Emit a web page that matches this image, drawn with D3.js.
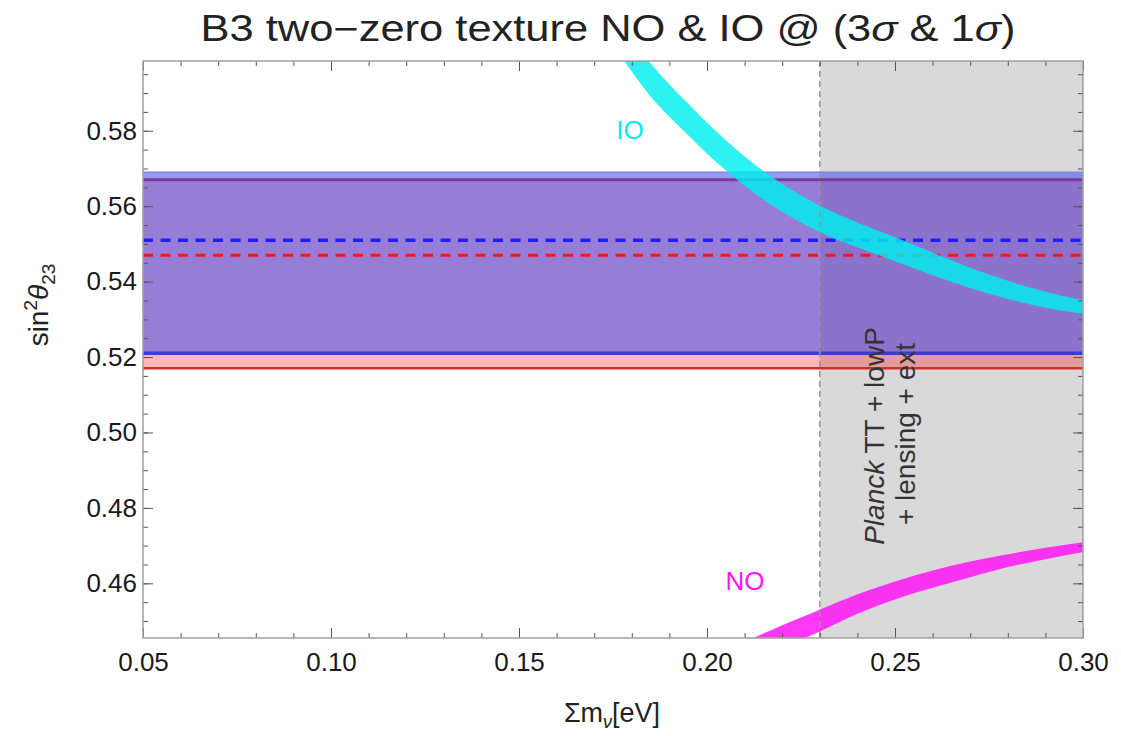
<!DOCTYPE html>
<html>
<head>
<meta charset="utf-8">
<script src="https://cdn.jsdelivr.net/npm/d3@7"></script>
<style>
  html, body { margin: 0; padding: 0; background: #fff; }
  svg { display: block; }
  text { font-family: "Liberation Sans", Arial, Helvetica, sans-serif; }
</style>
</head>
<body>
<svg id="chart" width="1121" height="736"></svg>
<script>
// Axis extents and ticks
const xDomain = [0.05, 0.30];
const yDomain = [0.4455, 0.5985];
const xMajorTicks = [0.05, 0.10, 0.15, 0.20, 0.25, 0.30];
const xMinorTicks = d3.range(0.05, 0.3001, 0.01);
const yMajorTicks = [0.46, 0.48, 0.50, 0.52, 0.54, 0.56, 0.58];
const yMinorTicks = d3.range(0.45, 0.5985, 0.005);

// 1-sigma ranges of sin^2(theta23) with best-fit values
const noBand = [0.517, 0.567];
const noBest = 0.547;
const ioBand = [0.521, 0.569];
const ioBest = 0.551;

// Cosmological bound on the sum of neutrino masses (eV)
const planckBound = 0.23;

// Allowed region, inverted ordering (IO)
const ioX     = [0.178, 0.185, 0.19, 0.195, 0.20, 0.205, 0.21, 0.215, 0.22, 0.225, 0.23, 0.24, 0.25, 0.26, 0.27, 0.28, 0.29, 0.30];
const ioUpper = [0.6075, 0.5979, 0.5923, 0.5872, 0.5821, 0.5775, 0.5732, 0.5693, 0.5659, 0.5629, 0.5601, 0.5557, 0.5518, 0.5477, 0.5437, 0.5402, 0.5373, 0.5351];
const ioLower = [0.5985, 0.5891, 0.5837, 0.5788, 0.5739, 0.5695, 0.5654, 0.5617, 0.5585, 0.5557, 0.5531, 0.5491, 0.5454, 0.5417, 0.5383, 0.5354, 0.5331, 0.5315];

// Allowed region, normal ordering (NO)
const noX     = [0.21, 0.215, 0.22, 0.23, 0.24, 0.25, 0.26, 0.27, 0.28, 0.29, 0.30];
const noUpper = [0.4445, 0.4467, 0.4489, 0.4530, 0.4571, 0.4605, 0.4634, 0.4658, 0.4677, 0.4694, 0.4709];
const noLower = [0.4385, 0.4407, 0.4429, 0.4472, 0.4519, 0.4557, 0.4588, 0.4616, 0.4643, 0.4664, 0.4683];

const svg = d3.select("#chart");
const plot = { left: 143, right: 1083, top: 61, bottom: 638 };

const x = d3.scaleLinear().domain(xDomain).range([plot.left, plot.right]);
const y = d3.scaleLinear().domain(yDomain).range([plot.bottom, plot.top]);

svg.append("defs").append("clipPath").attr("id", "plotClip")
  .append("rect")
  .attr("x", plot.left).attr("y", plot.top)
  .attr("width", plot.right - plot.left).attr("height", plot.bottom - plot.top);

const g = svg.append("g").attr("clip-path", "url(#plotClip)");

// Excluded mass region
g.append("rect")
  .attr("x", x(planckBound)).attr("y", plot.top)
  .attr("width", x(xDomain[1]) - x(planckBound))
  .attr("height", plot.bottom - plot.top)
  .attr("fill", "rgb(217,217,217)");

function band(range, fill, alpha) {
  g.append("rect")
    .attr("x", x(xDomain[0])).attr("width", x(xDomain[1]) - x(xDomain[0]))
    .attr("y", y(range[1])).attr("height", y(range[0]) - y(range[1]))
    .attr("fill", fill).attr("fill-opacity", alpha);
}
function hline(v, color, width, dash) {
  const l = g.append("line")
    .attr("x1", x(xDomain[0])).attr("x2", x(xDomain[1]))
    .attr("y1", y(v)).attr("y2", y(v))
    .attr("stroke", color).attr("stroke-width", width);
  if (dash) l.attr("stroke-dasharray", dash);
}

// NO band (red), then IO band (blue) on top
band(noBand, "rgb(255,0,0)", 0.28);
hline(noBand[1], "rgb(190,10,30)", 3);
hline(noBand[0], "rgb(215,45,40)", 2.5);
band(ioBand, "rgb(84,90,235)", 0.61);
hline(ioBand[1], "rgb(120,135,240)", 1.5);
hline(ioBand[0], "rgb(60,60,205)", 3.5);

// Best-fit values
hline(ioBest, "rgb(30,30,255)", 3.5, "10,7.5");
hline(noBest, "rgb(255,20,20)", 3, "10,7.5");

// Allowed regions of the texture
const area = (xs, lo, hi) => d3.area()
  .x((d, i) => x(xs[i]))
  .y0((d, i) => y(lo[i]))
  .y1((d, i) => y(hi[i]))
  .curve(d3.curveMonotoneX)(xs);

g.append("path").attr("d", area(ioX, ioLower, ioUpper))
  .attr("fill", "rgb(0,238,238)").attr("fill-opacity", 0.82);
g.append("path").attr("d", area(noX, noLower, noUpper))
  .attr("fill", "rgb(255,20,245)").attr("fill-opacity", 0.85);

// Planck bound marker
g.append("line")
  .attr("x1", x(planckBound)).attr("x2", x(planckBound))
  .attr("y1", plot.top).attr("y2", plot.bottom)
  .attr("stroke", "rgb(150,150,150)").attr("stroke-width", 1.5)
  .attr("stroke-dasharray", "6,4");

// Frame ticks (pointing inward)
function styleAxis(sel) {
  sel.select(".domain").remove();
  sel.selectAll(".tick line").attr("stroke", "#555").attr("stroke-width", 1);
}
const fmt = d3.format(".2f");

svg.append("g").attr("transform", `translate(0,${plot.bottom})`)
  .call(d3.axisBottom(x).tickValues(xMinorTicks).tickSize(-5).tickFormat(""))
  .call(styleAxis);
svg.append("g").attr("transform", `translate(0,${plot.bottom})`)
  .call(d3.axisBottom(x).tickValues(xMajorTicks).tickSize(-10).tickPadding(15).tickFormat(fmt))
  .call(styleAxis)
  .call(s => s.selectAll("text").attr("font-size", 26).attr("fill", "#1a1a1a")
    .attr("font-family", "Liberation Sans, Arial, sans-serif"));
svg.append("g").attr("transform", `translate(0,${plot.top})`)
  .call(d3.axisTop(x).tickValues(xMinorTicks).tickSize(-5).tickFormat(""))
  .call(styleAxis);
svg.append("g").attr("transform", `translate(0,${plot.top})`)
  .call(d3.axisTop(x).tickValues(xMajorTicks).tickSize(-10).tickFormat(""))
  .call(styleAxis);

svg.append("g").attr("transform", `translate(${plot.left},0)`)
  .call(d3.axisLeft(y).tickValues(yMinorTicks).tickSize(-5).tickFormat(""))
  .call(styleAxis);
svg.append("g").attr("transform", `translate(${plot.left},0)`)
  .call(d3.axisLeft(y).tickValues(yMajorTicks).tickSize(-10).tickPadding(6).tickFormat(fmt))
  .call(styleAxis)
  .call(s => s.selectAll("text").attr("font-size", 26).attr("fill", "#1a1a1a")
    .attr("font-family", "Liberation Sans, Arial, sans-serif"));
svg.append("g").attr("transform", `translate(${plot.right},0)`)
  .call(d3.axisRight(y).tickValues(yMinorTicks).tickSize(-5).tickFormat(""))
  .call(styleAxis);
svg.append("g").attr("transform", `translate(${plot.right},0)`)
  .call(d3.axisRight(y).tickValues(yMajorTicks).tickSize(-10).tickFormat(""))
  .call(styleAxis);

// Frame
svg.append("rect")
  .attr("x", plot.left).attr("y", plot.top)
  .attr("width", plot.right - plot.left).attr("height", plot.bottom - plot.top)
  .attr("fill", "none").attr("stroke", "rgb(160,160,160)").attr("stroke-width", 1.5);

// Curve labels
svg.append("text").attr("x", 630).attr("y", 139).attr("text-anchor", "middle")
  .attr("font-size", 26).attr("fill", "rgb(0,238,238)").text("IO");
svg.append("text").attr("x", 745).attr("y", 590).attr("text-anchor", "middle")
  .attr("font-size", 26).attr("fill", "rgb(255,20,245)").text("NO");

// Planck bound annotation
const ann = svg.append("g").attr("fill", "#333").attr("font-size", 28);
const l1 = ann.append("text").attr("text-anchor", "middle")
  .attr("transform", "translate(884,436) rotate(-90)");
l1.append("tspan").attr("font-style", "italic").text("Planck");
l1.append("tspan").text(" TT + lowP");
ann.append("text").attr("text-anchor", "middle")
  .attr("transform", "translate(915,434) rotate(-90)")
  .text("+ lensing + ext");

// Title
const title = svg.append("text").attr("x", 608).attr("y", 41)
  .attr("text-anchor", "middle").attr("font-size", 36).attr("fill", "#222")
  .attr("textLength", 815).attr("lengthAdjust", "spacingAndGlyphs");
title.append("tspan").text("B3 two\u2212zero texture NO & IO @ (3");
title.append("tspan").attr("font-style", "italic").text("\u03C3");
title.append("tspan").text(" & 1");
title.append("tspan").attr("font-style", "italic").text("\u03C3");
title.append("tspan").text(")");

// Axis titles
const xl = svg.append("text").attr("x", 612).attr("y", 722)
  .attr("text-anchor", "middle").attr("font-size", 27).attr("fill", "#222");
xl.append("tspan").text("\u03A3m");
xl.append("tspan").attr("font-size", 18).attr("dy", 6).attr("font-style", "italic").text("\u03BD");
xl.append("tspan").attr("dy", -6).text("[eV]");

const yl = svg.append("text").attr("text-anchor", "middle")
  .attr("font-size", 28).attr("fill", "#222")
  .attr("transform", "translate(48,305) rotate(-90)");
yl.append("tspan").text("sin");
yl.append("tspan").attr("font-size", 19).attr("dy", -11).text("2");
yl.append("tspan").attr("dy", 11).attr("font-style", "italic").text("\u03B8");
yl.append("tspan").attr("font-size", 19).attr("dy", 7).text("23");
</script>
</body>
</html>
